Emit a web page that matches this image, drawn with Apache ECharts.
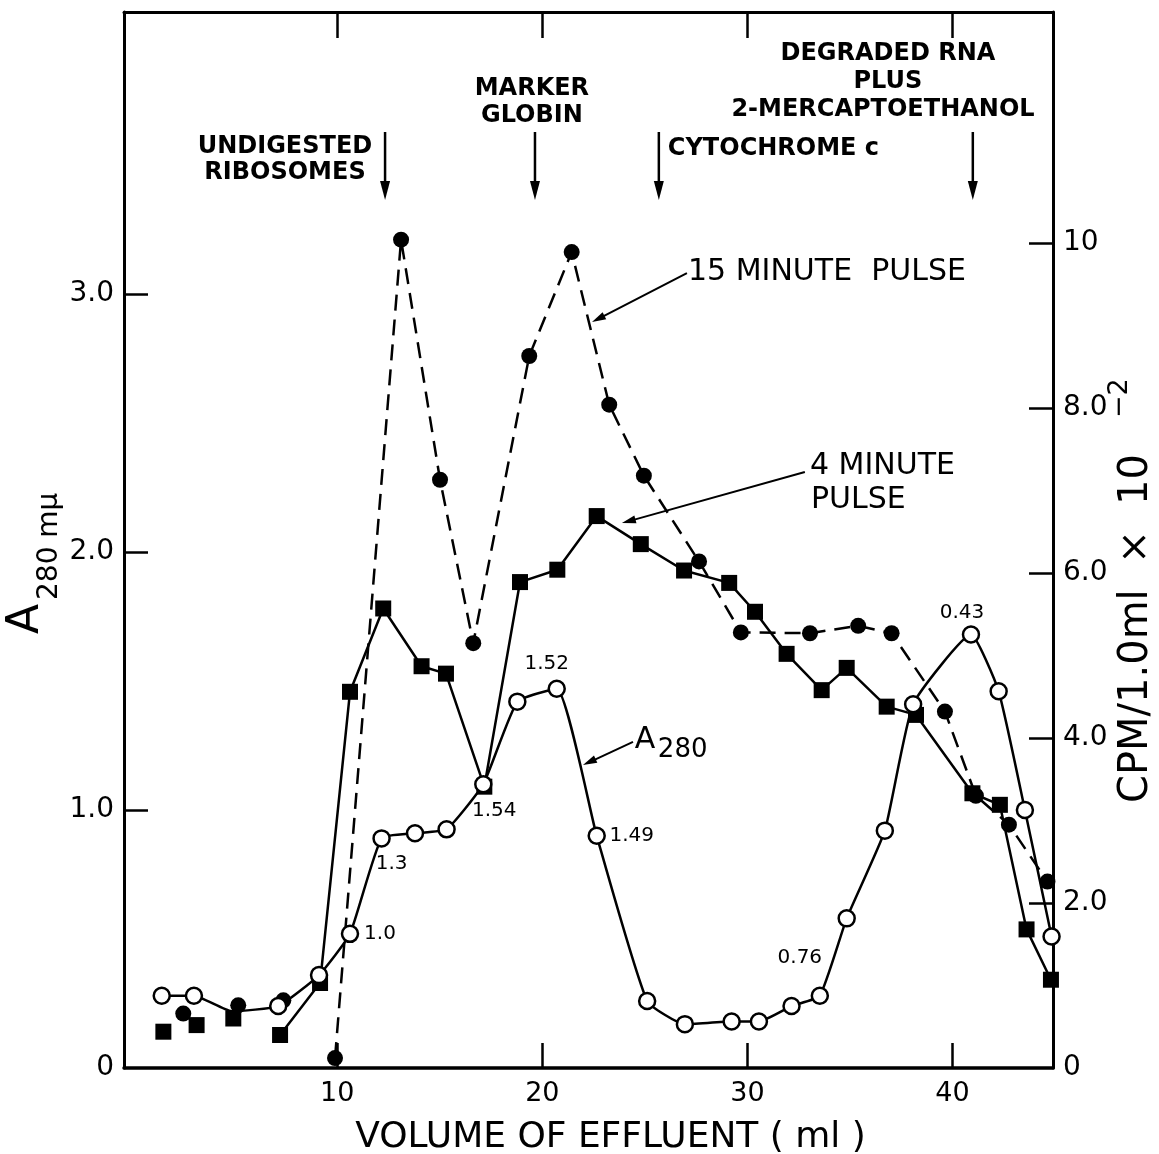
<!DOCTYPE html>
<html>
<head>
<meta charset="utf-8">
<script src="https://cdn.jsdelivr.net/npm/echarts@6/dist/echarts.min.js"></script>
<style>html,body{margin:0;padding:0;background:#fff}#c{width:1159px;height:1154px}</style>
</head>
<body>
<div id="c"></div>
<script>
// ---- data (volume of effluent, ml) ----
const a280X = [1.44, 3.01, 4.85, 7.12, 9.11, 10.62, 12.16, 13.79, 15.33, 17.12, 18.78, 20.70, 22.65, 25.11, 26.95, 29.23, 30.56, 32.15, 33.53, 34.84, 36.70, 38.08, 40.90, 42.25, 43.53, 44.83];
const a280Y = [0.28, 0.28, 0.22, 0.24, 0.36, 0.52, 0.89, 0.91, 0.925, 1.10, 1.42, 1.47, 0.90, 0.26, 0.17, 0.18, 0.18, 0.24, 0.28, 0.58, 0.92, 1.41, 1.68, 1.46, 1.00, 0.51];
const a280Notes = ['', '', '', '', '', '1.0', '1.3', '', '', '1.54', '', '1.52', '1.49', '', '', '', '', '', '0.76', '', '', '', '0.43', '', '', ''];

const pulse4X = [1.52, 3.14, 4.93, 7.21, 9.16, 10.62, 12.24, 14.11, 15.30, 17.17, 18.91, 20.73, 22.65, 24.80, 26.91, 29.11, 30.37, 31.91, 33.62, 34.84, 36.79, 38.22, 40.97, 42.31, 43.61, 44.80];
const pulse4Y = [0.44, 0.52, 0.60, 0.40, 1.03, 4.56, 5.57, 4.87, 4.78, 3.41, 5.89, 6.04, 6.69, 6.35, 6.03, 5.88, 5.53, 5.02, 4.58, 4.85, 4.38, 4.28, 3.33, 3.19, 1.68, 1.07];

const pulse15X = [2.49, 5.17, 7.37, 9.89, 13.11, 15.01, 16.63, 19.36, 21.43, 23.26, 24.95, 27.64, 29.68, 33.05, 35.40, 37.03, 39.63, 41.14, 42.75, 44.63];
const pulse15Y = [0.66, 0.76, 0.82, 0.12, 10.04, 7.13, 5.15, 8.63, 9.89, 8.04, 7.18, 6.14, 5.28, 5.27, 5.36, 5.27, 4.32, 3.30, 2.95, 2.26];

const pulse4LineFrom = 3;   // first points are unconnected
const pulse15LineFrom = 3;
const a280HiddenIdx = [2]; // point hidden behind other markers

const xTicks = [10, 20, 30, 40];
const leftLabels = [0, 1, 2, 3];
const rightLabels = [0, 2, 4, 6, 8, 10];

// marker positions (ml) for the top arrows
const markerX = [12.33, 19.64, 25.68, 40.99];

// ---- styles ----
const FONT = 'DejaVu Sans';
const BLACK = '#000';

const labelOffsets = {5: [30, 0], 6: [10, 25], 9: [11, 27], 11: [-10, -25], 12: [35, 0], 18: [-20, -38], 22: [-9, -22]};

function pairs(xs, ys, from, to) {
  const out = [];
  for (let i = from; i < to; i++) out.push([xs[i], ys[i]]);
  return out;
}

const a280Data = a280X.map((x, i) => {
  const item = {value: [x, a280Y[i]]};
  if (a280HiddenIdx.includes(i)) item.symbol = 'none';
  if (a280Notes[i]) {
    item.label = {show: true, formatter: a280Notes[i], position: 'inside', offset: labelOffsets[i] || [0, 0],
      color: BLACK, fontSize: 20, fontFamily: FONT};
  }
  return item;
});

const axisLineStyle = {color: BLACK, width: 3};
const tickStyle = {color: BLACK, width: 2.5};

const option = {
  animation: false,
  backgroundColor: '#fff',
  grid: {left: 124, right: 106, top: 12, bottom: 86, containLabel: false, outerBoundsMode: 'none'},
  xAxis: [
    {
      type: 'value', min: -0.4, max: 44.9, position: 'bottom',
      axisLine: {show: true, onZero: false, lineStyle: {color: BLACK, width: 3.5}},
      axisTick: {show: true, inside: true, length: 25, customValues: xTicks, lineStyle: tickStyle},
      axisLabel: {show: true, customValues: xTicks, color: BLACK, fontSize: 27, fontFamily: FONT, margin: 12},
      splitLine: {show: false},
      name: 'VOLUME OF EFFLUENT ( ml )', nameLocation: 'middle', nameGap: 52,
      nameTextStyle: {color: BLACK, fontSize: 36, fontFamily: FONT, padding: [0, 0, 0, 44]}
    },
    {
      type: 'value', min: -0.4, max: 44.9, position: 'top',
      axisLine: {show: true, onZero: false, lineStyle: axisLineStyle},
      axisTick: {show: true, inside: true, length: 26, customValues: xTicks, lineStyle: tickStyle},
      axisLabel: {show: false},
      splitLine: {show: false}
    }
  ],
  yAxis: [
    {
      type: 'value', min: 0, max: 4.093, position: 'left', interval: 1,
      axisLine: {show: true, onZero: false, lineStyle: axisLineStyle},
      axisTick: {show: true, inside: true, length: 24, customValues: [1, 2, 3], lineStyle: tickStyle},
      axisLabel: {show: true, customValues: leftLabels, color: BLACK, fontSize: 28, fontFamily: FONT, margin: 10,
        formatter: v => v === 0 ? '0' : v.toFixed(1)},
      splitLine: {show: false}
    },
    {
      type: 'value', min: 0, max: 12.8, position: 'right', interval: 2,
      axisLine: {show: true, onZero: false, lineStyle: axisLineStyle},
      axisTick: {show: true, inside: true, length: 24, customValues: [2, 4, 6, 8, 10], lineStyle: tickStyle},
      axisLabel: {show: true, customValues: rightLabels, color: BLACK, fontSize: 28, fontFamily: FONT, margin: 10,
        formatter: v => v === 0 ? '0' : (v === 10 ? '10' : v.toFixed(1))},
      splitLine: {show: false}
    }
  ],
  series: [
    {
      name: '15 minute pulse (isolated)', type: 'scatter', yAxisIndex: 1,
      data: pairs(pulse15X, pulse15Y, 0, pulse15LineFrom),
      symbol: 'circle', symbolSize: 16, itemStyle: {color: BLACK, opacity: 1}, silent: true, z: 2
    },
    {
      name: '15 minute pulse', type: 'line', yAxisIndex: 1, clip: false,
      data: pairs(pulse15X, pulse15Y, pulse15LineFrom, pulse15X.length),
      symbol: 'circle', symbolSize: 16, showSymbol: true,
      itemStyle: {color: BLACK}, lineStyle: {color: BLACK, width: 2.5, type: [16, 9]},
      silent: true, z: 2
    },
    {
      name: '4 minute pulse (isolated)', type: 'scatter', yAxisIndex: 1,
      data: pairs(pulse4X, pulse4Y, 0, pulse4LineFrom),
      symbol: 'rect', symbolSize: 16, itemStyle: {color: BLACK, opacity: 1}, silent: true, z: 3
    },
    {
      name: '4 minute pulse', type: 'line', yAxisIndex: 1, clip: false,
      data: pairs(pulse4X, pulse4Y, pulse4LineFrom, pulse4X.length),
      symbol: 'rect', symbolSize: 16, showSymbol: true,
      itemStyle: {color: BLACK}, lineStyle: {color: BLACK, width: 2.5},
      silent: true, z: 3
    },
    {
      name: 'A280', type: 'line', yAxisIndex: 0, clip: false,
      data: a280Data, smooth: 0.15,
      symbol: 'circle', symbolSize: 16, showSymbol: true,
      itemStyle: {color: '#fff', borderColor: BLACK, borderWidth: 2.5},
      lineStyle: {color: BLACK, width: 2.5},
      silent: true, z: 4
    }
  ]
};

const chart = echarts.init(document.getElementById('c'), null, {renderer: 'canvas'});
chart.setOption(option);

// ---- annotations anchored in data coordinates (ml, left axis) ----
const P = (x, y) => chart.convertToPixel({xAxisIndex: 0, yAxisIndex: 0}, [x, y]);

function arrow(p0, p1, headLen, headW, lw) {
  const dx = p1[0] - p0[0], dy = p1[1] - p0[1];
  const L = Math.hypot(dx, dy), ux = dx / L, uy = dy / L;
  const bx = p1[0] - ux * headLen, by = p1[1] - uy * headLen;
  return [
    {type: 'line', shape: {x1: p0[0], y1: p0[1], x2: bx + ux * 2, y2: by + uy * 2}, style: {stroke: BLACK, lineWidth: lw}, z: 10},
    {type: 'polygon', shape: {points: [[p1[0], p1[1]], [bx - uy * headW / 2, by + ux * headW / 2], [bx + uy * headW / 2, by - ux * headW / 2]]}, style: {fill: BLACK}, z: 10}
  ];
}
function txt(p, text, size, opts) {
  return Object.assign({
    type: 'text', x: p[0], y: p[1], z: 10,
    style: Object.assign({text: text, fontSize: size, fontFamily: FONT, fill: BLACK, align: 'center', verticalAlign: 'middle'}, (opts && opts.style) || {})
  }, (opts && opts.el) || {});
}

const g = [];
// top arrows
markerX.forEach(x => g.push(...arrow(P(x, 3.628), P(x, 3.364), 19, 10, 2.5)));
// top texts
const bold = {style: {fontWeight: 'bold'}};
g.push(txt(P(7.45, 3.570), 'UNDIGESTED', 24, bold));
g.push(txt(P(7.45, 3.469), 'RIBOSOMES', 24, bold));
g.push(txt(P(19.49, 3.795), 'MARKER', 24, bold));
g.push(txt(P(19.49, 3.690), 'GLOBIN', 24, bold));
g.push(txt(P(36.85, 3.930), 'DEGRADED RNA', 24, bold));
g.push(txt(P(36.85, 3.822), 'PLUS', 24, bold));
g.push(txt(P(36.61, 3.713), '2-MERCAPTOETHANOL', 24, bold));
g.push(txt(P(26.12, 3.562), 'CYTOCHROME c', 24, {style: {fontWeight: 'bold', align: 'left'}}));
// callouts
g.push(txt(P(27.10, 3.085), '15 MINUTE  PULSE', 30, {style: {align: 'left'}}));
g.push(...arrow(P(27.05, 3.081), P(22.42, 2.891), 14, 8, 2));
g.push(txt(P(33.05, 2.333), '4 MINUTE', 30, {style: {align: 'left'}}));
g.push(txt(P(33.10, 2.202), 'PULSE', 30, {style: {align: 'left'}}));
g.push(...arrow(P(32.80, 2.310), P(23.88, 2.112), 14, 8, 2));
const aPos = P(24.51, 1.270);
g.push(txt(aPos, 'A', 30, {style: {align: 'left'}}));
g.push(txt([aPos[0] + 23, aPos[1] + 10], '280', 26, {style: {align: 'left'}}));
g.push(...arrow(P(24.42, 1.264), P(21.98, 1.174), 14, 8, 2));

// axis titles (rotated)
g.push({type: 'text', x: 27, y: 634, rotation: Math.PI / 2, z: 10,
  style: {text: 'A', fontSize: 44, fontFamily: FONT, fill: BLACK, align: 'left', verticalAlign: 'middle'}});
g.push({type: 'text', x: 50, y: 600, rotation: Math.PI / 2, z: 10,
  style: {text: '280 mμ', fontSize: 28, fontFamily: FONT, fill: BLACK, align: 'left', verticalAlign: 'middle'}});
g.push({type: 'text', x: 1137, y: 803, rotation: Math.PI / 2, z: 10,
  style: {text: 'CPM/1.0ml  ×  10', fontSize: 40, fontFamily: FONT, fill: BLACK, align: 'left', verticalAlign: 'middle'}});
g.push({type: 'text', x: 1120, y: 418, rotation: Math.PI / 2, z: 10,
  style: {text: '−2', fontSize: 27, fontFamily: FONT, fill: BLACK, align: 'left', verticalAlign: 'middle'}});

chart.setOption({graphic: {elements: g}});
</script>
</body>
</html>
